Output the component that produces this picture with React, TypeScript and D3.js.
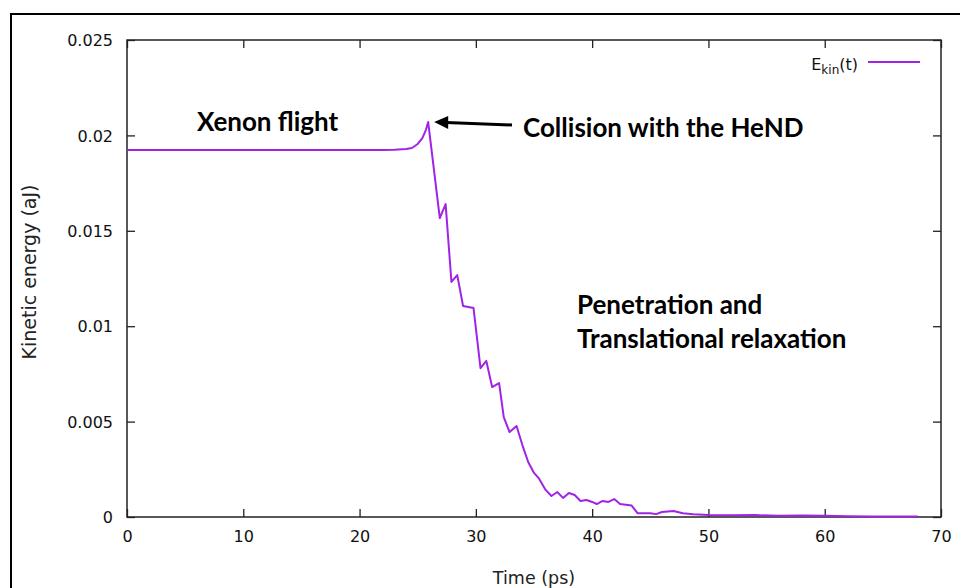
import { useEffect, useRef } from "react";
import * as d3 from "d3";

// Time (ps) and kinetic energy (aJ)
const times = [
  0, 5, 10, 15, 20, 22, 23, 24, 24.5, 25, 25.4, 25.7, 25.9, 26.9, 27.4, 27.9,
  28.4, 28.9, 29.8, 30.4, 30.9, 31.4, 32.0, 32.4, 32.9, 33.5, 34.0, 34.5, 35.0,
  35.4, 36.0, 36.5, 37.0, 37.5, 38.0, 38.5, 39.0, 39.5, 40.0, 40.4, 40.9, 41.4,
  41.9, 42.4, 43.4, 43.9, 45.0, 45.5, 46.0, 47.0, 47.8, 48.7, 50, 52, 54, 56,
  58, 60, 62, 64, 66, 68,
];
const ekin = [
  0.01923, 0.01923, 0.01923, 0.01923, 0.01923, 0.01923, 0.01925, 0.01929,
  0.01934, 0.01955, 0.01986, 0.02028, 0.0207, 0.01567, 0.0164, 0.01232,
  0.01268, 0.01106, 0.01095, 0.0078, 0.00818, 0.00681, 0.00702, 0.00524,
  0.00445, 0.00477, 0.00377, 0.00288, 0.00231, 0.00204, 0.00142, 0.0011,
  0.00131, 0.001, 0.00126, 0.00115, 0.00084, 0.00089, 0.00079, 0.00068,
  0.00084, 0.00079, 0.00094, 0.00068, 0.0006, 0.0002, 0.0002, 0.00015,
  0.00026, 0.00031, 0.0002, 0.00015, 0.0001, 0.00009, 0.0001, 0.00006,
  0.00008, 0.00006, 0.00004, 0.00003, 0.00002, 0.00003,
];
const xTicks = [0, 10, 20, 30, 40, 50, 60, 70];
const yTicks = [0, 0.005, 0.01, 0.015, 0.02, 0.025];

const W = 960, H = 588;
const plot = { left: 127, right: 941, top: 40, bottom: 517 };
const purple = "#a024e6";
const tickFont = "'DejaVu Sans', Verdana, sans-serif";
const noteFont = "Lato, 'Open Sans', sans-serif";

export default function App() {
  const ref = useRef<SVGSVGElement>(null);

  useEffect(() => {
    const svg = d3.select(ref.current);
    svg.selectAll("*").remove();

    const x = d3.scaleLinear().domain([0, 70]).range([plot.left, plot.right]);
    const y = d3.scaleLinear().domain([0, 0.025]).range([plot.bottom, plot.top]);

    svg.append("rect").attr("width", W).attr("height", H).attr("fill", "white");

    // outer frame
    svg.append("rect")
      .attr("x", 11).attr("y", 14)
      .attr("width", W + 20).attr("height", H + 20)
      .attr("fill", "none").attr("stroke", "black").attr("stroke-width", 2);

    // axes with inward ticks, mirrored
    const bottom = svg.append("g")
      .attr("transform", `translate(0,${plot.bottom})`)
      .call(d3.axisBottom(x).tickValues(xTicks).tickSizeInner(-8).tickSizeOuter(0).tickPadding(14).tickFormat(d3.format("d")));
    const left = svg.append("g")
      .attr("transform", `translate(${plot.left},0)`)
      .call(d3.axisLeft(y).tickValues(yTicks).tickSizeInner(-8).tickSizeOuter(0).tickPadding(14)
        .tickFormat((d) => (d === 0 ? "0" : String(+(+d).toFixed(3)))));
    const top = svg.append("g")
      .attr("transform", `translate(0,${plot.top})`)
      .call(d3.axisTop(x).tickValues(xTicks).tickSizeInner(-8).tickSizeOuter(0).tickFormat(() => ""));
    const right = svg.append("g")
      .attr("transform", `translate(${plot.right},0)`)
      .call(d3.axisRight(y).tickValues(yTicks).tickSizeInner(-8).tickSizeOuter(0).tickFormat(() => ""));

    [bottom, left, top, right].forEach((g) => {
      g.select(".domain").remove();
      g.selectAll(".tick line").attr("stroke", "#222").attr("stroke-width", 1.3);
      g.selectAll("text")
        .attr("font-family", tickFont)
        .attr("font-size", 16)
        .attr("fill", "#111");
    });
    left.selectAll("text").attr("dy", "0.35em");

    svg.append("rect")
      .attr("x", plot.left).attr("y", plot.top)
      .attr("width", plot.right - plot.left).attr("height", plot.bottom - plot.top)
      .attr("fill", "none").attr("stroke", "#222").attr("stroke-width", 1.5);

    // curve
    const pts: [number, number][] = times.map((t, i) => [t, ekin[i]]);
    const line = d3.line<[number, number]>().x((d) => x(d[0])).y((d) => y(d[1]));
    svg.append("path")
      .datum(pts)
      .attr("d", line)
      .attr("fill", "none")
      .attr("stroke", purple)
      .attr("stroke-width", 2)
      .attr("stroke-linejoin", "round");

    // axis titles
    svg.append("text")
      .attr("x", (plot.left + plot.right) / 2).attr("y", 584)
      .attr("text-anchor", "middle")
      .attr("font-family", tickFont).attr("font-size", 17.5).attr("fill", "#222")
      .text("Time (ps)");
    svg.append("text")
      .attr("transform", `translate(36,272) rotate(-90)`)
      .attr("text-anchor", "middle")
      .attr("font-family", tickFont).attr("font-size", 19).attr("fill", "#222")
      .text("Kinetic energy (aJ)");

    // legend
    const leg = svg.append("text")
      .attr("x", 858).attr("y", 70)
      .attr("text-anchor", "end")
      .attr("font-family", tickFont).attr("font-size", 16).attr("fill", "#111");
    leg.append("tspan").text("E");
    leg.append("tspan").attr("font-size", 12).attr("dy", 4).text("kin");
    leg.append("tspan").attr("dy", -4).text("(t)");
    svg.append("line")
      .attr("x1", 868).attr("x2", 920).attr("y1", 62).attr("y2", 62)
      .attr("stroke", purple).attr("stroke-width", 2);

    // annotations
    const note = (tx: number, ty: number, s: string) =>
      svg.append("text")
        .attr("x", tx).attr("y", ty)
        .attr("font-family", noteFont).attr("font-weight", 700)
        .attr("font-size", 26).attr("fill", "black")
        .text(s);
    note(197, 131, "Xenon flight");
    note(523, 137, "Collision with the HeND");
    note(577, 314, "Penetration and");
    note(577, 348, "Translational relaxation");

    // arrow to the peak
    const peakI = d3.maxIndex(ekin);
    const tipX = x(times[peakI]) + 6, tipY = y(ekin[peakI]);
    svg.append("line")
      .attr("x1", 512).attr("y1", 125).attr("x2", tipX + 12).attr("y2", tipY + 0.5)
      .attr("stroke", "black").attr("stroke-width", 3);
    svg.append("path")
      .attr("d", `M${tipX},${tipY} L${tipX + 14},${tipY - 6} L${tipX + 14},${tipY + 7} Z`)
      .attr("fill", "black");
  }, []);

  return (
    <svg
      ref={ref}
      width={W}
      height={H}
      style={{ position: "absolute", left: 0, top: 0 }}
    />
  );
}
